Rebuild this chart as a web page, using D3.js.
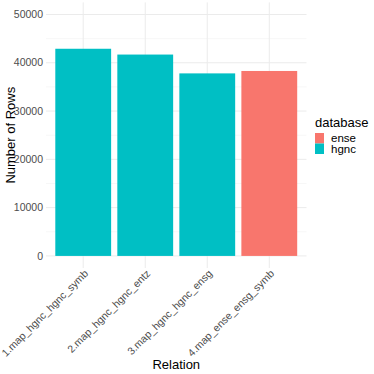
<!DOCTYPE html>
<html>
<head>
<meta charset="utf-8">
<script src="https://cdn.jsdelivr.net/npm/d3@7"></script>
<style>
  body { margin: 0; background: #fff; }
  text { font-family: "Liberation Sans", Arial, sans-serif; }
</style>
</head>
<body>
<div id="chart"></div>
<script>
const relations = ["1.map_hgnc_hgnc_symb", "2.map_hgnc_hgnc_entz", "3.map_hgnc_hgnc_ensg", "4.map_ense_ensg_symb"]
const rowCounts = [42900, 41700, 37800, 38300]
const databases = ["hgnc", "hgnc", "hgnc", "ense"]
const legendKeys = ["ense", "hgnc"]
const yTicks = [0, 10000, 20000, 30000, 40000, 50000]
const yMinor = [5000, 15000, 25000, 35000, 45000]

const W = 374, H = 374
const pLeft = 46, pRight = 306.5, pTop = 2.4, pBottom = 268

const svg = d3.select("#chart").append("svg")
    .attr("width", W)
    .attr("height", H)

const x = d3.scaleBand().domain(relations).range([pLeft, pRight])
    .paddingInner(0.1).paddingOuter(0.15)
const y = d3.scaleLinear().domain([-2500, 52500]).range([pBottom, pTop])
const color = d3.scaleOrdinal().domain(legendKeys).range(["#F8766D", "#00BFC4"])

// grid
svg.append("g").selectAll("line.minor")
    .data(yMinor).enter().append("line")
    .attr("x1", pLeft).attr("x2", pRight)
    .attr("y1", d => y(d)).attr("y2", d => y(d))
    .style("stroke", "#f2f2f2").style("stroke-width", 0.6)

svg.append("g").selectAll("line.major")
    .data(yTicks).enter().append("line")
    .attr("x1", pLeft).attr("x2", pRight)
    .attr("y1", d => y(d)).attr("y2", d => y(d))
    .style("stroke", "#ebebeb").style("stroke-width", 1)

svg.append("g").selectAll("line.vx")
    .data(relations).enter().append("line")
    .attr("x1", d => x(d) + x.bandwidth() / 2).attr("x2", d => x(d) + x.bandwidth() / 2)
    .attr("y1", pTop).attr("y2", pBottom)
    .style("stroke", "#ebebeb").style("stroke-width", 1)

// bars
svg.append("g").selectAll("rect")
    .data(relations).enter().append("rect")
    .attr("x", d => x(d))
    .attr("width", x.bandwidth())
    .attr("y", (d, i) => y(rowCounts[i]))
    .attr("height", (d, i) => y(0) - y(rowCounts[i]))
    .style("fill", (d, i) => color(databases[i]))

// y axis labels
svg.append("g").selectAll("text")
    .data(yTicks).enter().append("text")
    .attr("x", 43)
    .attr("y", d => y(d))
    .attr("dy", "0.35em")
    .attr("text-anchor", "end")
    .style("font-size", "10.5px")
    .style("fill", "#4d4d4d")
    .text(d => d)

// x axis labels
svg.append("g").selectAll("text")
    .data(relations).enter().append("text")
    .attr("transform", d => "translate(" + (x(d) + x.bandwidth() / 2 + 0.5) + "," + 269 + ") rotate(-45)")
    .attr("dy", "0.7em")
    .attr("text-anchor", "end")
    .style("font-size", "10.5px")
    .style("fill", "#4d4d4d")
    .text(d => d)

// titles
svg.append("text")
    .attr("x", (pLeft + pRight) / 2).attr("y", 369)
    .attr("text-anchor", "middle")
    .style("font-size", "13px")
    .text("Relation")

svg.append("text")
    .attr("transform", "translate(15," + (pTop + pBottom) / 2 + ") rotate(-90)")
    .attr("text-anchor", "middle")
    .style("font-size", "13px")
    .text("Number of Rows")

// legend
const legend = svg.append("g").attr("transform", "translate(315,0)")
legend.append("text")
    .attr("x", 0).attr("y", 127)
    .style("font-size", "13px")
    .text("database")

legend.selectAll("rect")
    .data(legendKeys).enter().append("rect")
    .attr("x", 0).attr("y", (d, i) => 133 + i * 10.5)
    .attr("width", 9).attr("height", 10.5)
    .style("fill", d => color(d))

legend.selectAll("text.key")
    .data(legendKeys).enter().append("text")
    .attr("class", "key")
    .attr("x", 16).attr("y", (d, i) => 141.5 + i * 11)
    .style("font-size", "11.5px")
    .text(d => d)
</script>
</body>
</html>
